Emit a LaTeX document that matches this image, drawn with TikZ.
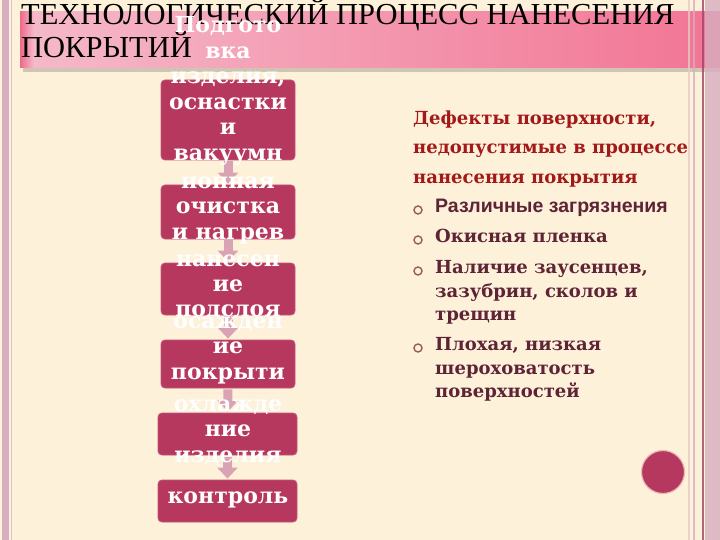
\documentclass[tikz,border=0pt]{standalone}
\usepackage{fontspec}
\setmainfont{Liberation Serif}
\newfontfamily\boxfont{DejaVu Serif}
\newfontfamily\sansbf{Liberation Sans}
\usetikzlibrary{arrows.meta}
\definecolor{cream}{HTML}{FDF1DA}
\definecolor{borderpink}{HTML}{D7AEBF}
\definecolor{darkline}{HTML}{A0406A}
\definecolor{barL}{HTML}{F5BACA}
\definecolor{barR}{HTML}{F27594}
\definecolor{barEdge}{HTML}{EE6A8C}
\definecolor{crimson}{HTML}{B7385F}
\definecolor{arrowpink}{HTML}{D9A3B4}
\definecolor{deftitle}{HTML}{A31818}
\definecolor{itemcol}{HTML}{5E2335}
\definecolor{bulletcol}{HTML}{9A5A50}
\tikzset{
  stepbox/.style={fill=crimson, rounded corners=4pt, inner sep=0, draw=crimson!85!white, line width=0.8pt},
  flowarrow/.style={arrowpink, line width=9pt, -{Triangle[width=20pt,length=11pt]}, shorten <=1pt, shorten >=1pt},
  boxtxt/.style={text=white, font=\boxfont\bfseries\fontsize{22}{26}\selectfont, anchor=mid, inner sep=0},
  titletxt/.style={font=\fontsize{30.5}{34}\selectfont, anchor=base west, inner sep=0, text=black},
  deftxt/.style={font=\boxfont\bfseries\fontsize{18}{21}\selectfont, text=deftitle, anchor=mid west, inner sep=0},
  itemtxt/.style={font=\boxfont\bfseries\fontsize{18}{21}\selectfont, text=itemcol, anchor=mid west, inner sep=0},
  itemsans/.style={font=\sansbf\bfseries\fontsize{19.5}{21}\selectfont, text=itemcol, anchor=mid west, inner sep=0},
  bulletring/.style={circle, draw=bulletcol, line width=1.4pt, minimum size=8pt, inner sep=0}
}
\begin{document}
\begin{tikzpicture}[x=1pt,y=-1pt]
\fill[cream] (0,0) rectangle (720,540);
\useasboundingbox (0,0) rectangle (720,540);
% left border
\fill[borderpink] (2,0) rectangle (9,540);
\fill[borderpink!70!cream] (10.5,0) rectangle (12,540);
% title bar
\fill[black, opacity=0.18] (23,16) rectangle (720,72);
\shade[left color=barL, right color=barR] (20,12) rectangle (720,68);
\shade[left color=barEdge, right color=barL] (20,12) rectangle (34,68);
% right border
\fill[borderpink!60!cream, opacity=0.8] (687.5,0) rectangle (689.5,540);
\fill[borderpink, opacity=0.8] (693,0) rectangle (695,540);
\fill[darkline, opacity=0.8] (702,0) rectangle (703.5,540);
\fill[borderpink, opacity=0.8] (704.5,0) rectangle (720,540);
% title
\node[titletxt] (title1) at (21,25) {ТЕХНОЛОГИЧЕСКИЙ ПРОЦЕСС НАНЕСЕНИЯ};
\node[titletxt] (title2) at (21,58) {ПОКРЫТИЙ};
% boxes
\node[stepbox, minimum width=134pt, minimum height=80pt] (b1) at (228,120) {};
\node[stepbox, minimum width=134pt, minimum height=54pt] (b2) at (228,212) {};
\node[stepbox, minimum width=134pt, minimum height=52pt] (b3) at (228,289) {};
\node[stepbox, minimum width=134pt, minimum height=48pt] (b4) at (228,364) {};
\node[stepbox, minimum width=139pt, minimum height=42pt] (b5) at (227.5,434) {};
\node[stepbox, minimum width=139pt, minimum height=42pt] (b6) at (227.5,501) {};
% arrows
\draw[flowarrow] (b1.south) -- (b2.north);
\draw[flowarrow] (b2.south) -- (b3.north);
\draw[flowarrow] (b3.south) -- (b4.north);
\draw[flowarrow] (b4.south) -- (b5.north);
\draw[flowarrow] (b5.south) -- (b6.north);
% box texts
\foreach \t [count=\i] in {Подгото,вка,{изделия,},оснастки,и,вакуумн}
  \node[boxtxt] (ta\i) at (228,{30.5+25.5*(\i-1)}) {\t};
\foreach \t [count=\i] in {ионная,очистка,и нагрев}
  \node[boxtxt] (tb\i) at (228,{186+25.5*(\i-1)}) {\t};
\foreach \t [count=\i] in {нанесен,ие,подслоя}
  \node[boxtxt] (tc\i) at (228,{264+25*(\i-1)}) {\t};
\foreach \t [count=\i] in {осажден,ие,покрыти}
  \node[boxtxt] (td\i) at (228,{326+25.5*(\i-1)}) {\t};
\foreach \t [count=\i] in {охлажде,ние,изделия}
  \node[boxtxt] (te\i) at (228,{409+25.5*(\i-1)}) {\t};
\node[boxtxt] (tf1) at (228,501) {контроль};
% right text
\node[deftxt] (d1) at (413,122) {Дефекты поверхности,};
\node[deftxt] (d2) at (413,151) {недопустимые в процессе};
\node[deftxt] (d3) at (413,181) {нанесения покрытия};
\node[bulletring] (o1) at (418,210) {};
\node[bulletring] (o2) at (418,240) {};
\node[bulletring] (o3) at (418,271) {};
\node[bulletring] (o4) at (418,348) {};
\node[itemsans] (i1) at (435,210) {Различные загрязнения};
\node[itemtxt] (i2) at (435,240) {Окисная пленка};
\node[itemtxt] (i3a) at (435,271) {Наличие заусенцев,};
\node[itemtxt] (i3b) at (435,295) {зазубрин, сколов и};
\node[itemtxt] (i3c) at (435,318) {трещин};
\node[itemtxt] (i4a) at (435,348) {Плохая, низкая};
\node[itemtxt] (i4b) at (435,372) {шероховатость};
\node[itemtxt] (i4c) at (435,395) {поверхностей};
% dot
\node[circle, fill=crimson, draw=crimson!30!cream, line width=1.2pt, minimum size=43pt, inner sep=0] (dot) at (663,472) {};
\end{tikzpicture}
\end{document}
